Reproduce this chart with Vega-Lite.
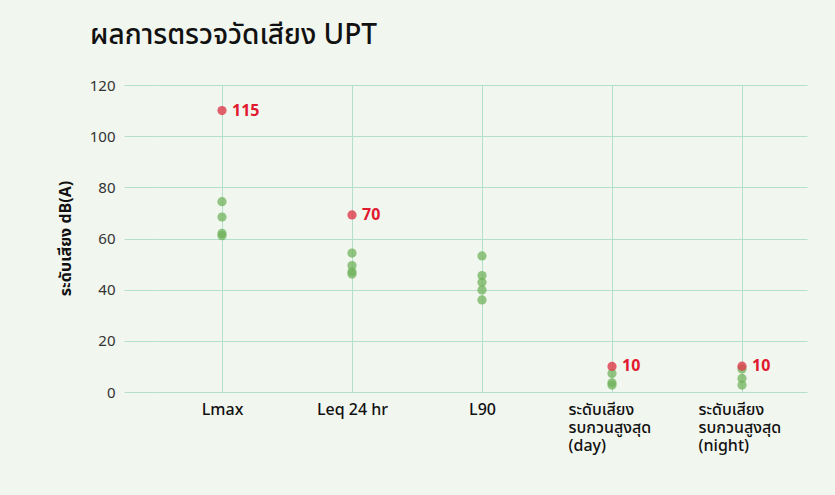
{
  "$schema": "https://vega.github.io/schema/vega-lite/v6.json",
  "autosize": {"type": "none"},
  "width": 650,
  "height": 307,
  "padding": {"left": 157, "top": 85, "right": 28, "bottom": 103},
  "background": "#f1f6ef",
  "title": {
    "text": "ผลการตรวจวัดเสียง UPT",
    "anchor": "start",
    "frame": "group",
    "dx": -67,
    "offset": 28,
    "fontSize": 28,
    "fontWeight": 500,
    "font": "Noto Sans Thai, Noto Sans, sans-serif",
    "color": "#111111"
  },
  "config": {
    "view": {"stroke": null},
    "font": "Noto Sans Thai, Noto Sans, sans-serif"
  },
  "data": {
    "values": [
      {"cat": "Lmax", "value": 74.4, "type": "sample", "label": ""},
      {"cat": "Lmax", "value": 68.4, "type": "sample", "label": ""},
      {"cat": "Lmax", "value": 62.0, "type": "sample", "label": ""},
      {"cat": "Lmax", "value": 61.1, "type": "sample", "label": ""},
      {"cat": "Leq 24 hr", "value": 54.3, "type": "sample", "label": ""},
      {"cat": "Leq 24 hr", "value": 49.4, "type": "sample", "label": ""},
      {"cat": "Leq 24 hr", "value": 47.0, "type": "sample", "label": ""},
      {"cat": "Leq 24 hr", "value": 46.1, "type": "sample", "label": ""},
      {"cat": "L90", "value": 53.2, "type": "sample", "label": ""},
      {"cat": "L90", "value": 45.5, "type": "sample", "label": ""},
      {"cat": "L90", "value": 42.9, "type": "sample", "label": ""},
      {"cat": "L90", "value": 39.9, "type": "sample", "label": ""},
      {"cat": "L90", "value": 36.0, "type": "sample", "label": ""},
      {"cat": "ระดับเสียง|รบกวนสูงสุด|(day)", "value": 7.2, "type": "sample", "label": ""},
      {"cat": "ระดับเสียง|รบกวนสูงสุด|(day)", "value": 3.6, "type": "sample", "label": ""},
      {"cat": "ระดับเสียง|รบกวนสูงสุด|(day)", "value": 2.7, "type": "sample", "label": ""},
      {"cat": "ระดับเสียง|รบกวนสูงสุด|(night)", "value": 9.0, "type": "sample", "label": ""},
      {"cat": "ระดับเสียง|รบกวนสูงสุด|(night)", "value": 5.3, "type": "sample", "label": ""},
      {"cat": "ระดับเสียง|รบกวนสูงสุด|(night)", "value": 2.7, "type": "sample", "label": ""},
      {"cat": "Lmax", "value": 110, "type": "standard", "label": "115"},
      {"cat": "Leq 24 hr", "value": 69.2, "type": "standard", "label": "70"},
      {"cat": "ระดับเสียง|รบกวนสูงสุด|(day)", "value": 10, "type": "standard", "label": "10"},
      {"cat": "ระดับเสียง|รบกวนสูงสุด|(night)", "value": 10.1, "type": "standard", "label": "10"}
    ]
  },
  "encoding": {
    "x": {
      "field": "cat",
      "type": "nominal",
      "sort": null,
      "scale": {"type": "point", "padding": 0.5},
      "axis": {
        "title": null,
        "domain": false,
        "ticks": false,
        "grid": true,
        "gridColor": "#b3e0cb",
        "gridWidth": 1,
        "labelAngle": 0,
        "labelPadding": 9,
        "labelFontSize": 16,
        "labelFontWeight": 500,
        "labelColor": "#111111",
        "labelLineHeight": 18,
        "labelBaseline": "top",
        "labelExpr": "split(datum.value, '|')",
        "labelAlign": {"condition": {"test": "indexof(datum.value, '|') >= 0", "value": "left"}, "value": "center"},
        "labelOffset": {"condition": {"test": "indexof(datum.value, '|') >= 0", "value": -44}, "value": 0}
      }
    },
    "y": {
      "field": "value",
      "type": "quantitative",
      "scale": {"domain": [0, 120], "nice": false},
      "axis": {
        "title": "ระดับเสียง dB(A)",
        "titleFontSize": 16,
        "titleFontWeight": "bold",
        "titleColor": "#111111",
        "titleX": -92,
        "titleY": 153,
        "titleBaseline": "middle",
        "values": [0, 20, 40, 60, 80, 100, 120],
        "domain": false,
        "grid": true,
        "gridColor": "#b3e0cb",
        "tickColor": "#b3e0cb",
        "tickSize": 33,
        "labelPadding": 9,
        "labelFontSize": 15,
        "labelColor": "#333333"
      }
    }
  },
  "layer": [
    {
      "mark": {"type": "circle", "size": 85},
      "encoding": {
        "color": {
          "field": "type",
          "type": "nominal",
          "scale": {"domain": ["sample", "standard"], "range": ["#72b35c", "#df3a4b"]},
          "legend": null
        },
        "opacity": {
          "field": "type",
          "type": "nominal",
          "scale": {"domain": ["sample", "standard"], "range": [0.75, 0.8]},
          "legend": null
        },
        "order": {"field": "type", "sort": "ascending"}
      }
    },
    {
      "transform": [{"filter": "datum.type == 'standard'"}],
      "mark": {"type": "text", "align": "left", "baseline": "middle", "dx": 10, "fontSize": 16, "fontWeight": "bold", "color": "#e0192f"},
      "encoding": {"text": {"field": "label"}}
    }
  ]
}
